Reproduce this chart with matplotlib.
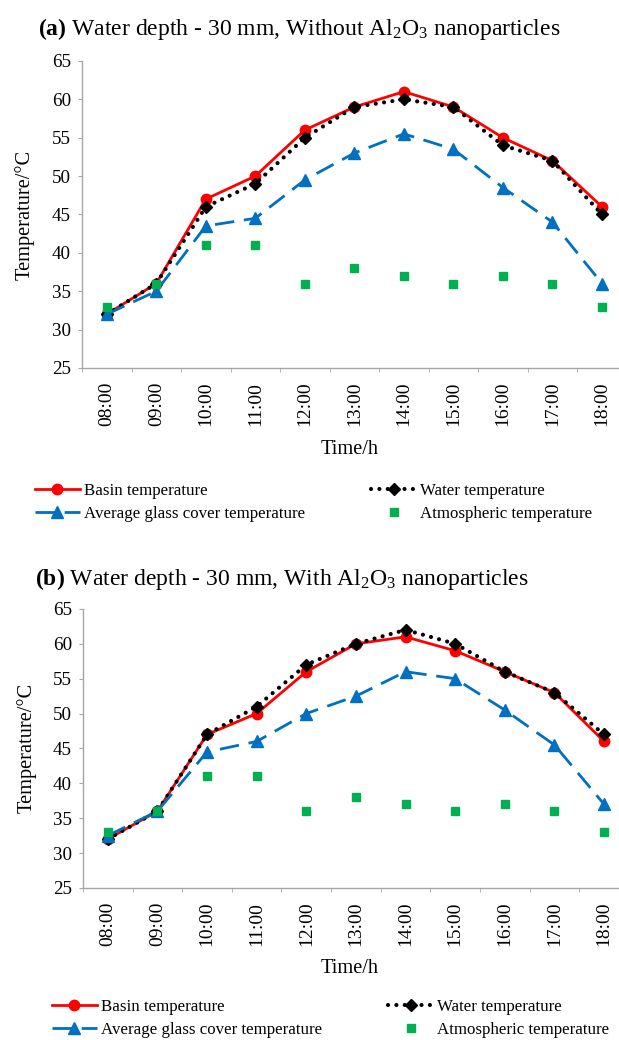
import matplotlib
matplotlib.use('Agg')
import matplotlib.pyplot as plt
import numpy as np

plt.rcParams['font.family'] = ['Liberation Serif', 'DejaVu Serif']
plt.rcParams['mathtext.fontset'] = 'custom'
plt.rcParams['mathtext.rm'] = 'Liberation Serif'
plt.rcParams['mathtext.it'] = 'Liberation Serif:italic'
plt.rcParams['mathtext.bf'] = 'Liberation Serif:bold'

hours = ['08:00', '09:00', '10:00', '11:00', '12:00', '13:00',
         '14:00', '15:00', '16:00', '17:00', '18:00']

# (a) without nanoparticles
basin_a = [32, 36, 47, 50, 56, 59, 61, 59, 55, 52, 46]
water_a = [32, 36, 46, 49, 55, 59, 60, 59, 54, 52, 45]
glass_a = [32, 35, 43.5, 44.5, 49.5, 53, 55.5, 53.5, 48.5, 44, 36]
atm_a = [33, 36, 41, 41, 36, 38, 37, 36, 37, 36, 33]

# (b) with nanoparticles
basin_b = [32, 36, 47, 50, 56, 60, 61, 59, 56, 53, 46]
water_b = [32, 36, 47, 51, 57, 60, 62, 60, 56, 53, 47]
glass_b = [32.5, 36, 44.5, 46, 50, 52.5, 56, 55, 50.5, 45.5, 37]
atm_b = [33, 36, 41, 41, 36, 38, 37, 36, 37, 36, 33]

titles = [r'$\mathbf{(a)}$ Water depth - 30 mm, Without Al$_2$O$_3$ nanoparticles',
          r'$\mathbf{(b)}$ Water depth - 30 mm, With Al$_2$O$_3$ nanoparticles']

red = '#FF0000'
blue = '#0070C0'
green = '#00B050'
grey = '#A6A6A6'

fig = plt.figure(figsize=(6.19, 10.4), dpi=100)

panels = [
    dict(rect=[0.1325, 0.6462, 0.880, 0.2952], data=(basin_a, water_a, glass_a, atm_a),
         title_xy=(0.062, 0.972), ylab_x=0.040, xlab_y=0.568, leg_xy=(0.0565, 0.5355)),
    dict(rect=[0.1340, 0.1462, 0.882, 0.2683], data=(basin_b, water_b, glass_b, atm_b),
         title_xy=(0.057, 0.443), ylab_x=0.043, xlab_y=0.069, leg_xy=(0.084, 0.0395)),
]

for i, p in enumerate(panels):
    ax = fig.add_axes(p['rect'])
    basin, water, glass, atm = p['data']
    x = np.arange(len(hours))
    h1, = ax.plot(x, basin, color=red, lw=2, marker='o', ms=7.5, label='Basin temperature')
    h2, = ax.plot(x, water, color='black', lw=3, linestyle=(0, (0.01, 2.0)),
                  dash_capstyle='round', marker='D', ms=6, label='Water temperature')
    h3, = ax.plot(x, glass, color=blue, lw=2, linestyle=(0, (7, 3.5)), marker='^', ms=8,
                  label='Average glass cover temperature')
    h4, = ax.plot(x, atm, color=green, lw=0, marker='s', ms=5.5, label='Atmospheric temperature')

    ax.set_xlim(-0.5, len(hours) - 0.5)
    ax.set_ylim(25, 65)
    ax.set_yticks(range(25, 66, 5))
    ax.set_xticks(x)
    ax.set_xticklabels(hours, rotation=90, fontsize=14)
    ax.set_xticks(np.arange(-0.5, len(hours), 1), minor=True)
    ax.tick_params(axis='x', which='major', length=0, pad=10)
    ax.tick_params(axis='x', which='minor', length=3, color=grey, direction='out')
    ax.tick_params(axis='y', length=3, color=grey, labelsize=13.7, pad=5)
    for s in ['top', 'right']:
        ax.spines[s].set_visible(False)
    for s in ['left', 'bottom']:
        ax.spines[s].set_color(grey)
        ax.spines[s].set_linewidth(1)

    fig.text(p['title_xy'][0], p['title_xy'][1], titles[i], fontsize=17,
             ha='left', va='center')
    fig.text(p['ylab_x'], p['rect'][1] + p['rect'][3] / 2, 'Temperature/°C', rotation=90,
             fontsize=14.7, ha='center', va='center')
    fig.text(0.565, p['xlab_y'], 'Time/h', fontsize=14.7, ha='center', va='center')

    fig.legend([h1, h3, h2, h4],
               [h1.get_label(), h3.get_label(), h2.get_label(), h4.get_label()],
               loc='upper left', bbox_to_anchor=p['leg_xy'], ncol=2, frameon=False,
               fontsize=12.2, handlelength=2.65, handletextpad=0.25, columnspacing=3.9,
               labelspacing=0.4, borderaxespad=0, borderpad=0)

fig.savefig('out.png', dpi=100)
